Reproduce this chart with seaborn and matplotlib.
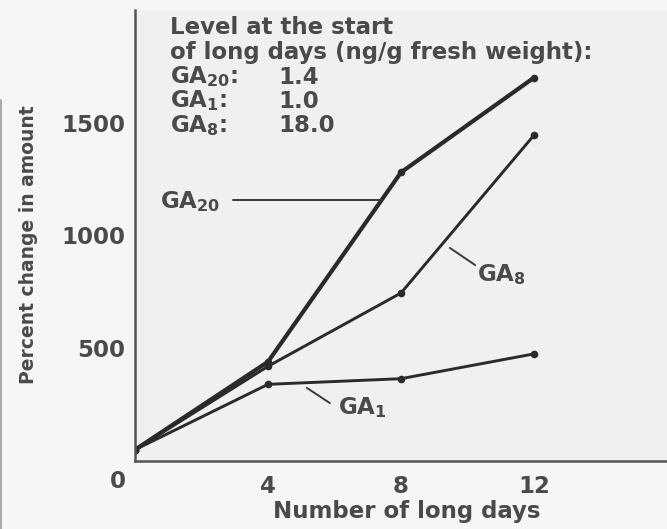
import numpy as np
import pandas as pd
import matplotlib
matplotlib.use("Agg")
import matplotlib.pyplot as plt
from matplotlib.lines import Line2D
import seaborn as sns

# ---- data ----
days = [0, 4, 8, 12]
ga20 = [50, 440, 1280, 1700]
ga8 = [50, 420, 745, 1445]
ga1 = [50, 340, 365, 475]
series_names = ["GA20", "GA8", "GA1"]
y_ticks = [500, 1000, 1500, 2000]
y_tick_labels = ["500", "1000", "1500", ""]
x_ticks = [4, 8, 12]
x_tick_labels = ["4", "8", "12"]
info_lines = ["Level at the start", "of long days (ng/g fresh weight):"]
info_names = ["GA$_{20}$:", "GA$_{1}$:", "GA$_{8}$:"]
info_values = ["1.4", "1.0", "18.0"]

df = pd.DataFrame({
    "day": days * 3,
    "value": ga20 + ga8 + ga1,
    "compound": [n for n in series_names for _ in days],
})

sns.set_theme(style="white")
plt.rcParams["font.family"] = ["DejaVu Sans"]
plt.rcParams["font.weight"] = "bold"
plt.rcParams["mathtext.fontset"] = "custom"
plt.rcParams["mathtext.rm"] = "DejaVu Sans:bold"
plt.rcParams["mathtext.it"] = "DejaVu Sans:bold"
plt.rcParams["mathtext.bf"] = "DejaVu Sans:bold"

TXT = "#4a4a4a"
LINE = "#2a2a2a"
FS = 16.5

W, H = 667, 529
fig = plt.figure(figsize=(W / 100, H / 100), dpi=100, facecolor="#f6f6f6")
ax = fig.add_axes([135 / W, 1 - 461 / H, (667 - 135) / W, (461 - 10) / H])
ax.set_facecolor("#f0f0f0")

widths = {"GA20": 3.0, "GA8": 2.1, "GA1": 2.1}
for name in series_names:
    sub = df[df["compound"] == name]
    sns.lineplot(data=sub, x="day", y="value", ax=ax, color=LINE,
                 linewidth=widths[name], marker="o", markersize=5.5,
                 markeredgewidth=0, legend=False)

ax.set_xlim(0, 16)
ax.set_ylim(0, 2000)
for s in ["top", "right"]:
    ax.spines[s].set_visible(False)
for s in ["left", "bottom"]:
    ax.spines[s].set_color("#555555")
    ax.spines[s].set_linewidth(1.8)

ax.set_xticks(x_ticks)
ax.set_xticklabels(x_tick_labels)
ax.set_yticks(y_ticks)
ax.set_yticklabels(y_tick_labels)
ax.tick_params(axis="y", direction="in", length=9, width=1.4, color="#555555",
               pad=7, labelsize=FS, labelcolor=TXT)
ax.tick_params(axis="x", direction="in", length=7, width=1.4, color="#555555",
               pad=10, labelsize=FS, labelcolor=TXT)
ax.set_xlabel("Number of long days", fontsize=FS, color=TXT, fontweight="bold")
ax.set_ylabel("Percent change in amount", fontsize=13.5, color=TXT,
              fontweight="bold")
ax.xaxis.set_label_coords((407 - 135) / 532, (461 - 500) / 451)
ax.yaxis.set_label_coords((38 - 135) / 532, (461 - 245) / 451)

# corner "0"
ax.annotate("0", xy=(0, 0), xytext=(-17, -20), textcoords="offset pixels",
            ha="center", va="center", fontsize=FS, color=TXT,
            fontweight="bold", annotation_clip=False)

# info text block
y_info = [27, 52, 77, 101, 126]
for i, line in enumerate(info_lines):
    fig.text(170 / W, 1 - y_info[i] / H, line, fontsize=FS, color=TXT,
             ha="left", va="center", fontweight="bold")
for j, (n, v) in enumerate(zip(info_names, info_values)):
    fig.text(170 / W, 1 - y_info[2 + j] / H, n, fontsize=FS, color=TXT,
             ha="left", va="center", fontweight="bold")
    fig.text(278 / W, 1 - y_info[2 + j] / H, v, fontsize=FS, color=TXT,
             ha="left", va="center", fontweight="bold")

# series labels with leader lines
lead_kw = dict(color="#3a3a3a", linewidth=1.4)
# GA20
y20 = 1157
x20_end = np.interp(y20, ga20, days)
ax.plot([2.95, x20_end], [y20, y20], **lead_kw)
ax.text(0.75, 1149, "GA$_{20}$", fontsize=FS, color=TXT, ha="left",
        va="center", fontweight="bold")
# GA8
ax.plot([9.47, 10.23], [945, 869], **lead_kw)
ax.text(10.3, 825, "GA$_{8}$", fontsize=FS, color=TXT, ha="left",
        va="center", fontweight="bold")
# GA1
ax.plot([5.17, 5.86], [324, 257], **lead_kw)
ax.text(6.1, 235, "GA$_{1}$", fontsize=FS, color=TXT, ha="left",
        va="center", fontweight="bold")

# left border line of the scan
fig.add_artist(Line2D([1.5 / W, 1.5 / W], [0, 1 - 100 / H], color="#9a9a9a",
                      linewidth=1.2, transform=fig.transFigure))

fig.savefig("out.png", dpi=100, facecolor=fig.get_facecolor())
